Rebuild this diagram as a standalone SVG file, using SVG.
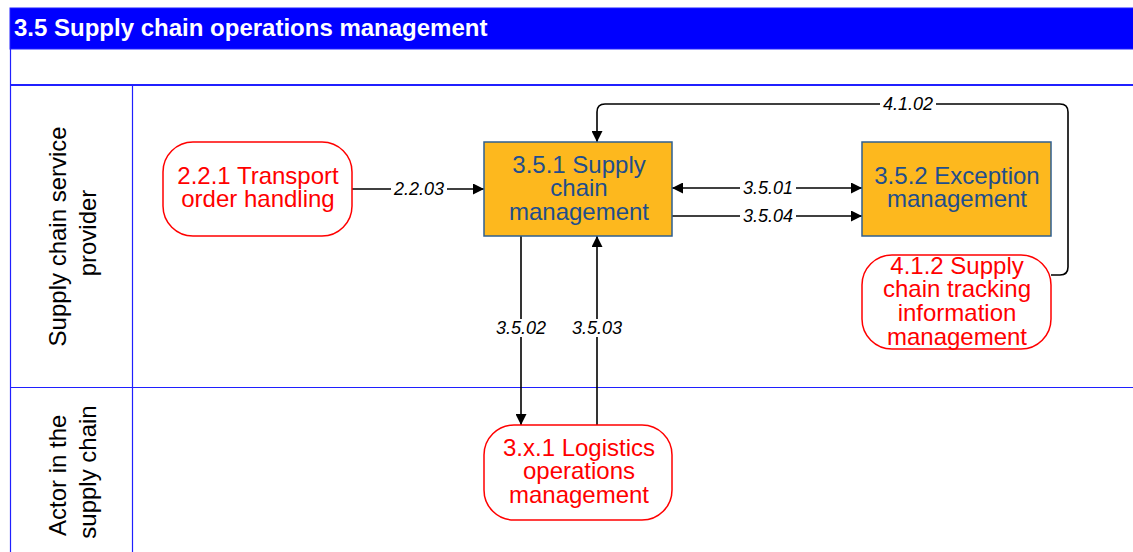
<svg xmlns="http://www.w3.org/2000/svg" width="1133" height="552" viewBox="0 0 1133 552">
  <defs>
    <marker id="arr" viewBox="0 0 10 10" refX="10" refY="5" markerWidth="11" markerHeight="11" markerUnits="userSpaceOnUse" orient="auto-start-reverse">
      <path d="M0,0 L10,5 L0,10 z" fill="#000"/>
    </marker>
    <style>
      .lane { fill: none; stroke: #2020ff; stroke-width: 1.2; }
      .lanelbl { font-family: "Liberation Sans", Arial, sans-serif; font-size: 24px; fill: #000; text-anchor: middle; }
      .ext { fill: #fff; stroke: #ff0000; stroke-width: 1.5; }
      .exttxt { font-family: "Liberation Sans", Arial, sans-serif; font-size: 24px; fill: #ff0000; text-anchor: middle; }
      .proc { fill: #fdb81e; stroke: #2e5f91; stroke-width: 1.5; }
      .proctxt { font-family: "Liberation Sans", Arial, sans-serif; font-size: 24px; fill: #1f4e8c; text-anchor: middle; }
      .conn { fill: none; stroke: #000; stroke-width: 1.6; }
      .flow { font-family: "Liberation Sans", Arial, sans-serif; font-size: 18px; font-style: italic; fill: #000; text-anchor: middle; }
      .flowbg { fill: #fff; }
    </style>
  </defs>

  <rect width="1133" height="552" fill="#fff"/>

  <!-- swimlane frame -->
  <g id="frame">
    <rect x="10" y="8" width="1130" height="41" fill="#0000ff" stroke="#2020ff" stroke-width="1"/>
    <text x="14" y="36" font-family="Liberation Sans, Arial, sans-serif" font-size="24" font-weight="bold" fill="#fff">3.5 Supply chain operations management</text>
    <line class="lane" x1="10.5" y1="49" x2="10.5" y2="552"/>
    <line x1="10" y1="85" x2="1133" y2="85" stroke="#2020ff" stroke-width="2"/>
    <line class="lane" x1="132.5" y1="86" x2="132.5" y2="552"/>
    <line class="lane" x1="10" y1="387.5" x2="1133" y2="387.5"/>
  </g>

  <!-- lane titles -->
  <g id="lane-provider">
    <text class="lanelbl" transform="translate(66,233) rotate(-90)">
      <tspan x="0" y="0">Supply chain service</tspan>
      <tspan x="0" y="30">provider</tspan>
    </text>
  </g>
  <g id="lane-actor">
    <text class="lanelbl" transform="translate(66,472) rotate(-90)">
      <tspan x="0" y="0">Actor in the</tspan>
      <tspan x="0" y="30">supply chain</tspan>
    </text>
  </g>

  <!-- connectors -->
  <g id="connectors">
    <path class="conn" d="M352,189 H484" marker-end="url(#arr)"/>
    <path class="conn" d="M672,188 H862" marker-start="url(#arr)" marker-end="url(#arr)"/>
    <path class="conn" d="M672,216 H862" marker-end="url(#arr)"/>
    <path class="conn" d="M1051,275 H1060 Q1068,275 1068,267 V112 Q1068,104 1060,104 H605 Q597,104 597,112 V142" marker-end="url(#arr)"/>
    <path class="conn" d="M521,236 V425" marker-end="url(#arr)"/>
    <path class="conn" d="M597,425 V236" marker-end="url(#arr)"/>

    <rect class="flowbg" x="391" y="180" width="56" height="18"/>
    <text class="flow" x="419" y="195">2.2.03</text>
    <rect class="flowbg" x="740" y="179" width="56" height="18"/>
    <text class="flow" x="768" y="194">3.5.01</text>
    <rect class="flowbg" x="740" y="207" width="56" height="18"/>
    <text class="flow" x="768" y="222">3.5.04</text>
    <rect class="flowbg" x="880" y="95" width="56" height="18"/>
    <text class="flow" x="908" y="110">4.1.02</text>
    <rect class="flowbg" x="493" y="319" width="56" height="18"/>
    <text class="flow" x="521" y="334">3.5.02</text>
    <rect class="flowbg" x="569" y="319" width="56" height="18"/>
    <text class="flow" x="597" y="334">3.5.03</text>
  </g>

  <!-- nodes -->
  <g id="n221">
    <rect class="ext" x="163" y="142" width="189" height="94" rx="30"/>
    <text class="exttxt"><tspan x="258" y="184">2.2.1 Transport</tspan><tspan x="258" y="207">order handling</tspan></text>
  </g>
  <g id="n351">
    <rect class="proc" x="484" y="142" width="188" height="94"/>
    <text class="proctxt"><tspan x="579" y="173">3.5.1 Supply</tspan><tspan x="579" y="196">chain</tspan><tspan x="579" y="220">management</tspan></text>
  </g>
  <g id="n352">
    <rect class="proc" x="862" y="142" width="189" height="94"/>
    <text class="proctxt"><tspan x="957" y="184">3.5.2 Exception</tspan><tspan x="957" y="207">management</tspan></text>
  </g>
  <g id="n412">
    <rect class="ext" x="862" y="255" width="189" height="94" rx="30"/>
    <text class="exttxt"><tspan x="957" y="274">4.1.2 Supply</tspan><tspan x="957" y="297">chain tracking</tspan><tspan x="957" y="321">information</tspan><tspan x="957" y="345">management</tspan></text>
  </g>
  <g id="n3x1">
    <rect class="ext" x="484" y="425" width="188" height="95" rx="30"/>
    <text class="exttxt"><tspan x="579" y="456">3.x.1 Logistics</tspan><tspan x="579" y="479">operations</tspan><tspan x="579" y="503">management</tspan></text>
  </g>
</svg>
